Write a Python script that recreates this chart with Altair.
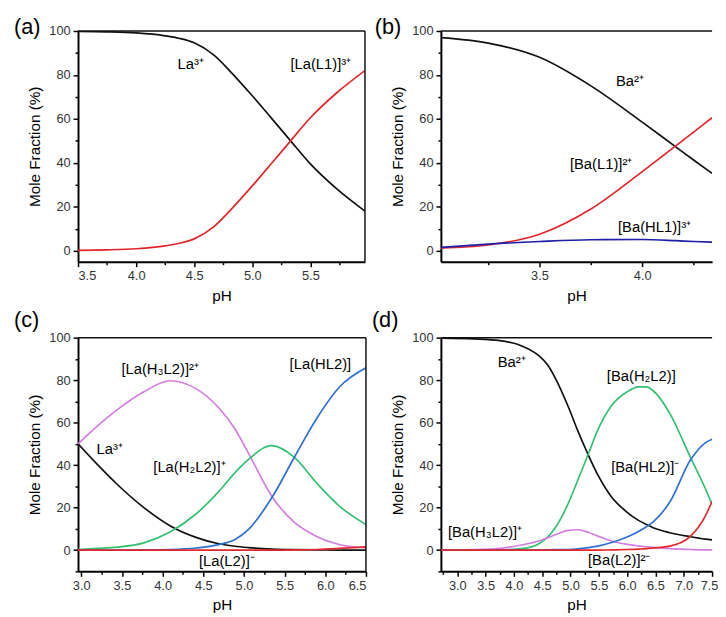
import altair as alt
import pandas as pd

FONT = "Liberation Sans"

# ---------------- panel (a) ----------------
a_ph = [3.5, 3.75, 4.0, 4.25, 4.375, 4.5, 4.67, 4.83, 5.0, 5.17, 5.33, 5.5, 5.73, 5.97]
a_La = [99.8, 99.6, 99.1, 97.8, 96.6, 94.6, 89.0, 80.5, 70.5, 60.0, 50.0, 39.5, 28.0, 18.0]
a_LaL1 = [0.2, 0.4, 0.9, 2.2, 3.4, 5.4, 11.0, 19.5, 29.5, 40.0, 50.0, 60.5, 72.0, 82.0]

# ---------------- panel (b) ----------------
b_ph = [3.02, 3.25, 3.5, 3.75, 4.0, 4.16, 4.25, 4.34]
b_Ba = [97.0, 94.5, 88.0, 75.0, 58.5, 47.5, 41.3, 35.2]
b_BaL1 = [1.2, 2.6, 7.5, 19.0, 36.0, 47.5, 54.0, 60.5]
b_BaHL1 = [1.5, 3.0, 4.2, 5.0, 5.1, 4.6, 4.2, 3.9]

# ---------------- panel (c) ----------------
c_ph = [2.96, 3.2, 3.44, 3.77, 4.09, 4.41, 4.69, 4.89, 5.05, 5.34, 5.62, 5.90, 6.18, 6.5]
c_La = [50.0, 40.2, 31.0, 20.0, 11.5, 6.0, 3.0, 1.8, 1.2, 0.5, 0.2, 0.1, 0.0, 0.0]
c_H3L2 = [50.0, 58.5, 66.0, 74.5, 79.7, 76.0, 67.0, 57.0, 46.0, 25.5, 13.0, 6.3, 2.5, 1.0]
c_H2L2 = [0.3, 0.8, 1.4, 3.4, 8.5, 17.0, 27.5, 36.5, 42.5, 49.2, 43.7, 31.3, 20.5, 12.0]
c_HL2 = [0.0, 0.0, 0.0, 0.1, 0.3, 1.0, 2.6, 5.0, 9.5, 24.5, 43.7, 62.3, 77.0, 85.8]
c_L2 = [0.0, 0.0, 0.0, 0.0, 0.0, 0.0, 0.0, 0.0, 0.0, 0.0, 0.1, 0.3, 0.8, 1.5]

# ---------------- panel (d) ----------------
d_ph = [2.71, 3.29, 3.75, 4.15, 4.44, 4.6, 4.73, 4.96, 5.13, 5.31, 5.48, 5.71, 6.0, 6.2,
        6.34, 6.46, 6.75, 7.12, 7.38, 7.5]
d_Ba = [99.8, 99.4, 98.6, 96.0, 91.5, 87.0, 81.0, 67.5, 56.0, 45.0, 35.5, 25.5, 17.8, 14.0,
        12.0, 10.5, 8.2, 6.3, 5.2, 4.8]
d_H2L2 = [0.0, 0.05, 0.15, 0.7, 3.0, 6.2, 10.5, 22.0, 33.0, 45.0, 56.5, 67.5, 74.5, 76.8,
          76.8, 75.0, 64.5, 43.5, 29.0, 21.5]
d_H3L2 = [0.0, 0.2, 0.8, 2.5, 4.3, 5.8, 7.2, 9.3, 9.6, 8.4, 6.6, 4.4, 2.7, 2.0,
          1.6, 1.3, 0.7, 0.3, 0.1, 0.1]
d_HL2 = [0.0, 0.0, 0.0, 0.0, 0.1, 0.15, 0.2, 0.3, 0.6, 1.2, 1.9, 3.5, 6.2, 8.8,
         11.0, 13.3, 22.5, 42.5, 50.5, 52.2]
d_L2 = [0.0, 0.0, 0.0, 0.0, 0.0, 0.0, 0.0, 0.0, 0.0, 0.0, 0.0, 0.1, 0.3, 0.5,
        0.7, 1.0, 1.9, 6.6, 16.0, 23.0]

# ---------------- annotation labels ----------------
a_lab_text = ["La\u00b3\u207a", "[La(L1)]\u00b3\u207a"]
a_lab_x = [4.47, 5.59]
a_lab_y = [85.0, 85.0]

b_lab_text = ["Ba\u00b2\u207a", "[Ba(L1)]\u00b2\u207a", "[Ba(HL1)]\u00b3\u207a"]
b_lab_x = [3.94, 3.80, 4.06]
b_lab_y = [77.0, 39.4, 10.8]

c_lab_text = ["[La(H\u2083L2)]\u00b2\u207a", "La\u00b3\u207a", "[La(H\u2082L2)]\u207a",
              "[La(HL2)]", "[La(L2)]\u207b"]
c_lab_x = [3.97, 3.35, 4.33, 5.94, 4.79]
c_lab_y = [85.0, 47.4, 39.0, 87.4, -5.0]

d_lab_text = ["Ba\u00b2\u207a", "[Ba(H\u2082L2)]", "[Ba(HL2)]\u207b", "[Ba(H\u2083L2)]\u207a",
              "[Ba(L2)]\u00b2\u207b"]
d_lab_x = [3.96, 6.25, 6.32, 3.49, 5.86]
d_lab_y = [88.7, 82.0, 39.0, 8.5, -4.7]

BLACK = "#111111"
RED = "#e3262b"
NAVY = "#1f1fa8"
BLUE = "#2f6fd3"
GREEN = "#35bf72"
VIOLET = "#d47de0"


def long_df(ph, series):
    rows = []
    for name, vals in series:
        for x, v in zip(ph, vals):
            rows.append({"pH": x, "v": v, "s": name})
    return pd.DataFrame(rows)


def panel(df, names, colors, texts, xs_, ys_, xdom, ydom, xmajor, xminor,
          w, h, letter, right_border, t_dx, t_offset, flush=False):
    xs = alt.Scale(domain=xdom, nice=False, zero=False)
    ys = alt.Scale(domain=ydom, nice=False, zero=False)
    xaxis_kw = dict(orient="bottom", values=xmajor, format=".1f", title="pH",
                    tickSize=5, labelPadding=3, titlePadding=6)
    if flush:
        xaxis_kw.update(labelFlush=True, labelFlushOffset=6)
    lines = alt.Chart(df).mark_line(strokeWidth=1.7, interpolate="monotone", clip=True).encode(
        x=alt.X("pH:Q", scale=xs, axis=alt.Axis(**xaxis_kw)),
        y=alt.Y("v:Q", scale=ys,
                axis=alt.Axis(orient="left", values=[0, 20, 40, 60, 80, 100], format="d",
                              title="Mole Fraction (%)", tickSize=5, labelPadding=3,
                              titlePadding=6)),
        color=alt.Color("s:N", scale=alt.Scale(domain=names, range=colors), legend=None),
    )
    lab_df = pd.DataFrame({"pH": xs_, "v": ys_, "t": texts})
    labels = alt.Chart(lab_df).mark_text(font=FONT, fontSize=15, color="black",
                                         align="center", baseline="middle").encode(
        x=alt.X("pH:Q", scale=xs,
                axis=alt.Axis(orient="bottom", values=xminor, labels=False, domain=False,
                              tickSize=3, title=None)),
        y=alt.Y("v:Q", scale=ys,
                axis=alt.Axis(orient="left", values=[-10, 10, 30, 50, 70, 90], labels=False,
                              domain=False, tickSize=3, title=None)),
        text="t:N",
    )
    top = alt.Chart(pd.DataFrame({"v": [ydom[1]]})).mark_rule(color=BLACK, strokeWidth=1.5).encode(
        y=alt.Y("v:Q", scale=ys, axis=None))
    layers = [lines, labels, top]
    if right_border:
        right = alt.Chart(pd.DataFrame({"pH": [xdom[1]]})).mark_rule(color=BLACK, strokeWidth=1.5).encode(
            x=alt.X("pH:Q", scale=xs, axis=None))
        layers.append(right)
    return alt.layer(*layers).resolve_axis(x="independent", y="independent").properties(
        width=w, height=h,
        title=alt.TitleParams(letter, anchor="start", frame="group", fontSize=22, font=FONT,
                              fontWeight="normal", color="black", baseline="alphabetic",
                              dx=t_dx, offset=t_offset),
    )


pa = panel(long_df(a_ph, [("La", a_La), ("LaL1", a_LaL1)]),
           ["La", "LaL1"], [BLACK, RED],
           a_lab_text, a_lab_x, a_lab_y,
           [3.5, 5.97], [-5, 100], [3.5, 4.0, 4.5, 5.0, 5.5], [3.75, 4.25, 4.75, 5.25, 5.75],
           291, 234, "(a)", True, -65, -31.5)

pb = panel(long_df(b_ph, [("Ba", b_Ba), ("BaL1", b_BaL1), ("BaHL1", b_BaHL1)]),
           ["Ba", "BaL1", "BaHL1"], [BLACK, RED, NAVY],
           b_lab_text, b_lab_x, b_lab_y,
           [3.02, 4.34], [-5, 100], [3.5, 4.0], [3.25, 3.75, 4.25],
           275, 234, "(b)", False, -67, -31.5)

pc = panel(long_df(c_ph, [("La", c_La), ("H3L2", c_H3L2), ("H2L2", c_H2L2), ("HL2", c_HL2), ("L2", c_L2)]),
           ["La", "H3L2", "H2L2", "HL2", "L2"], [BLACK, VIOLET, GREEN, BLUE, RED],
           c_lab_text, c_lab_x, c_lab_y,
           [2.96, 6.5], [-10, 100], [3.0, 3.5, 4.0, 4.5, 5.0, 5.5, 6.0, 6.5],
           [3.25, 3.75, 4.25, 4.75, 5.25, 5.75, 6.25],
           292, 237, "(c)", True, -65, -17.5)

pd_ = panel(long_df(d_ph, [("Ba", d_Ba), ("H2L2", d_H2L2), ("H3L2", d_H3L2), ("HL2", d_HL2), ("L2", d_L2)]),
            ["Ba", "H2L2", "H3L2", "HL2", "L2"], [BLACK, GREEN, VIOLET, BLUE, RED],
            d_lab_text, d_lab_x, d_lab_y,
            [2.71, 7.5], [-10, 100], [3.0, 3.5, 4.0, 4.5, 5.0, 5.5, 6.0, 6.5, 7.0, 7.5],
            [2.75, 3.25, 3.75, 4.25, 4.75, 5.25, 5.75, 6.25, 6.75, 7.25],
            275, 237, "(d)", False, -70, -17.5, flush=True)

chart = alt.concat(pa, pb, pc, pd_, columns=2, bounds="flush", align="each",
                   spacing={"row": 77, "column": 76}).resolve_scale(color="independent").properties(
    padding={"left": 6, "top": 4, "right": 0, "bottom": 0}
).configure_view(stroke=None).configure_axis(
    labelFont=FONT, labelFontSize=13, labelColor="#333333",
    titleFont=FONT, titleFontSize=15.5, titleFontWeight="normal", titleColor="black",
    domainColor="black", domainWidth=2, tickColor="black", tickWidth=1.5, grid=False,
)

chart.save("out.html", embed_options={"renderer": "svg", "actions": False})
